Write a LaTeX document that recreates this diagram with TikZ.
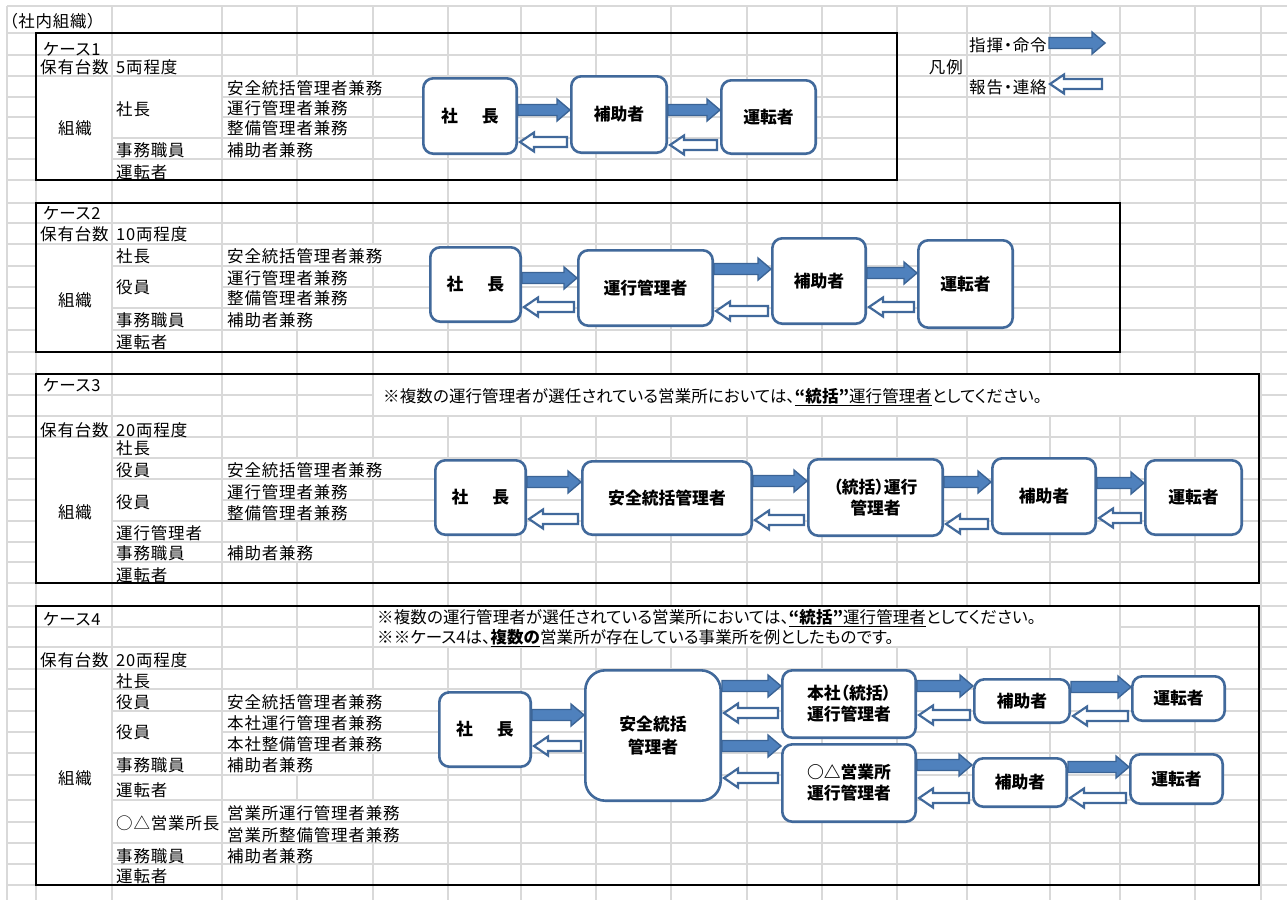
\documentclass[tikz,border=0pt]{standalone}
\usepackage{fontspec}
\setmainfont{Noto Sans CJK JP}[RawFeature={+palt}]
\usetikzlibrary{calc}
\definecolor{gridc}{HTML}{D9D9D9}
\definecolor{boxblue}{HTML}{41699B}
\definecolor{arrfill}{HTML}{4F81BD}
\definecolor{arrline}{HTML}{3B6496}
\newcommand\leftfnt{\fontsize{16.5}{20}\selectfont\addfontfeatures{LetterSpace=5}}
\newcommand\notefnt{\fontsize{16.5}{20}\selectfont\addfontfeatures{LetterSpace=0.6}}
\newcommand\boxfnt{\fontsize{16.8}{21}\selectfont\bfseries}
\tikzset{
  gridline/.style={draw=gridc, line width=1.3pt},
  lbl/.style={anchor=west, inner sep=0pt, font=\leftfnt},
  lblc/.style={anchor=center, inner sep=0pt, font=\leftfnt},
  lblr/.style={anchor=east, inner sep=0pt, font=\leftfnt},
  notetxt/.style={anchor=west, inner sep=0pt, font=\notefnt},
  pbox/.style={draw=boxblue, line width=2.6pt, rounded corners=10pt, fill=white, align=center, font=\boxfnt, inner sep=0pt},
  frame/.style={draw=black, line width=2.8pt},
  cmdarr/.style={fill=arrfill, draw=arrline, line width=1.4pt, line join=miter},
  reparr/.style={fill=white, draw=boxblue, line width=2.2pt, line join=miter},
}
\newcommand\mkbox[7][]{%
  \node[pbox,#1,minimum width={(#5)-(#3)-2.6},minimum height={(#6)-(#4)-2.6}] (#2) at ({((#3)+(#5))/2},{((#4)+(#6))/2}) {#7};}
\newcommand\mrg[4]{\fill[white] ({#1+0.8},{#2+0.8}) rectangle ({#3-0.8},{#4-0.8});}
\newcommand\CmdArrow[3]{%
  \path[cmdarr] let \p1=(#1), \p2=(#2), \n1={\x1/1pt}, \n2={\x2/1pt} in
  (\n1,#3-5.5) -- (\n2-13,#3-5.5) -- (\n2-13,#3-11) -- (\n2,#3) -- (\n2-13,#3+11) -- (\n2-13,#3+5.5) -- (\n1,#3+5.5) -- cycle;}
\newcommand\RepArrow[3]{%
  \path[reparr] let \p1=(#1), \p2=(#2), \n1={\x1/1pt+2}, \n2={\x2/1pt-3} in
  (\n2,#3-5) -- (\n1+14,#3-5) -- (\n1+14,#3-9.5) -- (\n1,#3) -- (\n1+14,#3+9.5) -- (\n1+14,#3+5) -- (\n2,#3+5) -- cycle;}
\begin{document}
\begin{tikzpicture}[x=1pt,y=-1pt]
\useasboundingbox (0,0) rectangle (1287,900);
\fill[white] (0,0) rectangle (1287,900);
% grid
\foreach \xx in {7,36,112,222,297,373,448,521,596,671,747,822,897,967,1050,1120,1195,1261}
  \draw[gridline] (\xx,6) -- (\xx,900);
\foreach \yy in {6,33,55,76,97,117,138,159,180,203,223,244,266,287,308,330,352,374,395,416,437,458,479,500,521,542,562,583,606,627,647,669,689,711,732,753,775,800,822,843,864,885}
  \draw[gridline] (7,\yy) -- (1287,\yy);
% merged / overflow cells
\mrg{7}{6}{112}{33}
\mrg{36}{76}{112}{180}\mrg{112}{76}{222}{138}\mrg{222}{76}{448}{97}\mrg{222}{97}{373}{117}\mrg{222}{117}{373}{138}\mrg{222}{138}{373}{159}
\mrg{36}{244}{112}{352}\mrg{112}{266}{222}{308}\mrg{222}{244}{448}{266}\mrg{222}{266}{373}{287}\mrg{222}{287}{373}{308}\mrg{222}{308}{373}{330}
\mrg{373}{374}{1261}{416}\mrg{36}{437}{112}{583}\mrg{112}{479}{222}{521}\mrg{222}{458}{448}{479}\mrg{222}{479}{373}{500}\mrg{222}{500}{373}{521}\mrg{222}{542}{373}{562}
\mrg{373}{606}{1120}{647}\mrg{36}{669}{112}{885}\mrg{112}{711}{222}{753}\mrg{112}{800}{222}{843}\mrg{222}{689}{448}{711}\mrg{222}{711}{448}{732}\mrg{222}{732}{448}{753}\mrg{222}{753}{373}{775}\mrg{222}{800}{448}{822}\mrg{222}{822}{448}{843}\mrg{222}{843}{373}{864}
% title and legend
\node[lbl] (title) at (9,21) {（社内組織）};
\node[lbl] (lg1) at (969,45) {指揮・命令};
\node[lblr] (lg2) at (963,67) {凡例};
\node[lbl] (lg3) at (969,87) {報告・連絡};
% case 1 texts
\node[lbl] (k1) at (43,49) {ケース1};
\node[lbl] (h1) at (40,67) {保有台数};
\node[lbl] (v1) at (116,67) {5両程度};
\node[lblc] (o1) at (75,128) {組織};
\node[lbl] (p1) at (116,109) {社長};
\node[lbl] (r1a) at (227,88) {安全統括管理者兼務};
\node[lbl] (r1b) at (227,108) {運行管理者兼務};
\node[lbl] (r1c) at (227,128) {整備管理者兼務};
\node[lbl] (e1) at (116,150) {事務職員};
\node[lbl] (e1b) at (227,150) {補助者兼務};
\node[lbl] (d1) at (116,172) {運転者};
% case 2 texts
\node[lbl] (k2) at (43,213) {ケース2};
\node[lbl] (h2) at (40,234) {保有台数};
\node[lbl] (v2) at (116,234) {10両程度};
\node[lblc] (o2) at (75,300) {組織};
\node[lbl] (p2) at (116,256) {社長};
\node[lbl] (r2a) at (227,256) {安全統括管理者兼務};
\node[lbl] (y2) at (116,287) {役員};
\node[lbl] (r2b) at (227,278) {運行管理者兼務};
\node[lbl] (r2c) at (227,298) {整備管理者兼務};
\node[lbl] (e2) at (116,320) {事務職員};
\node[lbl] (e2b) at (227,320) {補助者兼務};
\node[lbl] (d2) at (116,342) {運転者};
% case 3 texts
\node[lbl] (k3) at (43,385) {ケース3};
\node[notetxt] (n3) at (383,397) {※複数の運行管理者が選任されている営業所においては、\underline{\textbf{“統括”}運行管理者}としてください。};
\node[lbl] (h3) at (40,430) {保有台数};
\node[lbl] (v3) at (116,430) {20両程度};
\node[lblc] (o3) at (75,512) {組織};
\node[lbl] (p3) at (116,448) {社長};
\node[lbl] (y3a) at (116,470) {役員};
\node[lbl] (r3a) at (227,470) {安全統括管理者兼務};
\node[lbl] (y3b) at (116,502) {役員};
\node[lbl] (r3b) at (227,492) {運行管理者兼務};
\node[lbl] (r3c) at (227,513) {整備管理者兼務};
\node[lbl] (u3) at (116,533) {運行管理者};
\node[lbl] (e3) at (116,553) {事務職員};
\node[lbl] (e3b) at (227,553) {補助者兼務};
\node[lbl] (d3) at (116,575) {運転者};
% case 4 texts
\node[lbl] (k4) at (43,619) {ケース4};
\node[notetxt] (n4a) at (377,618) {※複数の運行管理者が選任されている営業所においては、\underline{\textbf{“統括”}運行管理者}としてください。};
\node[notetxt] (n4b) at (377,638) {※※ケース4は、\underline{\textbf{複数の}}営業所が存在している事業所を例としたものです。};
\node[lbl] (h4) at (40,660) {保有台数};
\node[lbl] (v4) at (116,660) {20両程度};
\node[lblc] (o4) at (75,778) {組織};
\node[lbl] (p4) at (116,681) {社長};
\node[lbl] (y4a) at (116,702) {役員};
\node[lbl] (r4a) at (227,702) {安全統括管理者兼務};
\node[lbl] (y4b) at (116,732) {役員};
\node[lbl] (r4b) at (227,723) {本社運行管理者兼務};
\node[lbl] (r4c) at (227,744) {本社整備管理者兼務};
\node[lbl] (e4) at (116,765) {事務職員};
\node[lbl] (e4b) at (227,765) {補助者兼務};
\node[lbl] (d4) at (116,790) {運転者};
\node[lbl] (b4) at (116,823) {○△営業所長};
\node[lbl] (r4d) at (227,813) {営業所運行管理者兼務};
\node[lbl] (r4e) at (227,835) {営業所整備管理者兼務};
\node[lbl] (e4c) at (116,856) {事務職員};
\node[lbl] (e4d) at (227,856) {補助者兼務};
\node[lbl] (d4b) at (116,876) {運転者};
% frames
\draw[frame] (36,33) rectangle (897,180);
\draw[frame] (36,203) rectangle (1120,352);
\draw[frame] (36,374) rectangle (1259,583);
\draw[frame] (36,606) rectangle (1259,885);
% legend arrows
\coordinate (lgA) at (1049,43);
\coordinate (lgB) at (1105,43);
\coordinate (lgC) at (1048,84);
\coordinate (lgD) at (1105,84);
\CmdArrow{lgA}{lgB}{43}
\RepArrow{lgC}{lgD}{84}
% case 1 diagram
\mkbox{c1s}{422}{77}{518}{155}{社\hspace{24pt}長}
\mkbox{c1h}{570}{75}{668}{154}{補助者}
\mkbox{c1d}{720}{79}{817}{155}{運転者}
\CmdArrow{c1s.east}{c1h.west}{110}
\RepArrow{c1s.east}{c1h.west}{142}
\CmdArrow{c1h.east}{c1d.west}{110}
\RepArrow{c1h.east}{c1d.west}{145}
% case 2 diagram
\mkbox{c2s}{429}{246}{522}{323}{社\hspace{24pt}長}
\mkbox{c2u}{577}{249}{714}{327}{運行管理者}
\mkbox{c2h}{771}{237}{867}{325}{補助者}
\mkbox{c2d}{917}{239}{1014}{329}{運転者}
\CmdArrow{c2s.east}{c2u.west}{278}
\RepArrow{c2s.east}{c2u.west}{307}
\CmdArrow{c2u.east}{c2h.west}{269}
\RepArrow{c2u.east}{c2h.west}{311}
\CmdArrow{c2h.east}{c2d.west}{273}
\RepArrow{c2h.east}{c2d.west}{307}
% case 3 diagram
\mkbox{c3s}{434}{459}{527}{536}{社\hspace{24pt}長}
\mkbox{c3a}{581}{460}{753}{536}{安全統括管理者}
\mkbox{c3u}{807}{458}{944}{537}{（統括）運行\\管理者}
\mkbox{c3h}{991}{457}{1097}{535}{補助者}
\mkbox{c3d}{1144}{459}{1243}{536}{運転者}
\CmdArrow{c3s.east}{c3a.west}{482}
\RepArrow{c3s.east}{c3a.west}{519}
\CmdArrow{c3a.east}{c3u.west}{481}
\RepArrow{c3a.east}{c3u.west}{520}
\CmdArrow{c3u.east}{c3h.west}{482}
\RepArrow{c3u.east}{c3h.west}{524}
\CmdArrow{c3h.east}{c3d.west}{483}
\RepArrow{c3h.east}{c3d.west}{518}
% case 4 diagram
\mkbox{c4s}{438}{691}{532}{768}{社\hspace{24pt}長}
\mkbox[rounded corners=20pt]{c4a}{584}{669}{722}{802}{安全統括\\[2pt]管理者}
\mkbox{c4u1}{781}{669}{917}{739}{本社（統括）\\運行管理者}
\mkbox{c4u2}{781}{743}{917}{823}{○△営業所\\運行管理者}
\mkbox{c4h1}{973}{678}{1071}{724}{補助者}
\mkbox{c4d1}{1131}{675}{1226}{722}{運転者}
\mkbox{c4h2}{972}{757}{1068}{808}{補助者}
\mkbox{c4d2}{1129}{753}{1224}{805}{運転者}
\CmdArrow{c4s.east}{c4a.west}{715}
\RepArrow{c4s.east}{c4a.west}{746}
\CmdArrow{c4a.east}{c4u1.west}{686}
\RepArrow{c4a.east}{c4u1.west}{713}
\CmdArrow{c4a.east}{c4u2.west}{746}
\RepArrow{c4a.east}{c4u2.west}{778}
\CmdArrow{c4u1.east}{c4h1.west}{686}
\RepArrow{c4u1.east}{c4h1.west}{715}
\CmdArrow{c4h1.east}{c4d1.west}{687}
\RepArrow{c4h1.east}{c4d1.west}{716}
\CmdArrow{c4u2.east}{c4h2.west}{765}
\RepArrow{c4u2.east}{c4h2.west}{798}
\CmdArrow{c4h2.east}{c4d2.west}{767}
\RepArrow{c4h2.east}{c4d2.west}{798}
\end{tikzpicture}
\end{document}
